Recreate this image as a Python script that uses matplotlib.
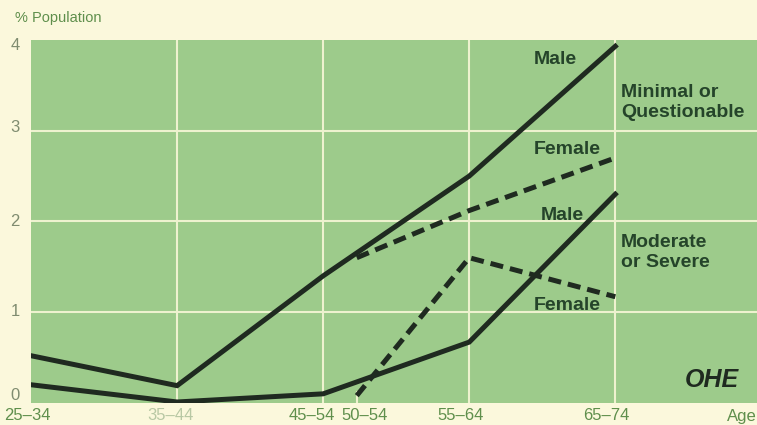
import matplotlib.pyplot as plt

# age groups on x axis (position index), 50-54 sits between 45-54 and 55-64
age_labels = ["25–34", "35–44", "45–54", "50–54", "55–64", "65–74"]
age_pos = [0, 1, 2, 2.23, 3, 4]

# minimal or questionable
male_min_x = [0, 1, 2, 3, 4]
male_min = [0.52, 0.19, 1.40, 2.50, 3.93]
female_min_x = [2.23, 3, 4]
female_min = [1.60, 2.12, 2.70]

# moderate or severe
male_mod_x = [0, 1, 2, 3, 4]
male_mod = [0.20, 0.01, 0.10, 0.67, 2.30]
female_mod_x = [2.23, 3, 4]
female_mod = [0.08, 1.60, 1.17]

cream = "#fbf8dc"
green = "#9dcb8b"
grid_c = "#eef2cf"
line_c = "#1f2a20"
txt_c = "#25442a"

fig = plt.figure(figsize=(7.57, 4.25), dpi=100, facecolor=cream)
ax = fig.add_axes([0.041, 0.052, 0.959, 0.854])
ax.set_facecolor(green)
for s in ax.spines.values():
    s.set_visible(False)

ax.set_xlim(0, 4.97)
ax.set_ylim(0, 4)

# grid
for x in [1, 2, 3, 4]:
    ax.axvline(x, color=grid_c, lw=1.5, zorder=1)
ax.axvline(2.23, ymax=0.03, color=grid_c, lw=1.5, zorder=1)
for y in [1, 2, 3]:
    ax.axhline(y, color=grid_c, lw=1.5, zorder=1)

lw = 3.6
ax.plot(male_min_x, male_min, color=line_c, lw=lw, solid_joinstyle="miter", zorder=3)
ax.plot(male_mod_x, male_mod, color=line_c, lw=lw, solid_joinstyle="miter", zorder=3)
ax.plot(female_min_x, female_min, color=line_c, lw=lw, dashes=(2.6, 1.4), zorder=3)
ax.plot(female_mod_x, female_mod, color=line_c, lw=lw, dashes=(2.6, 1.4), zorder=3)

ax.set_xticks([])
ax.set_yticks([])

font = ["Liberation Sans", "DejaVu Sans"]

# y tick labels (pixel rows)
ylab_py = [395, 311, 221, 128, 45]
for v, py in enumerate(ylab_py):
    fig.text(15 / 757, 1 - py / 425, str(v), ha="center", va="center",
             fontsize=12, color="#7f8c70", family=font)
# x tick labels
xlab_px = [27, 171, 312, 365, 461, 606]
for lab, px in zip(age_labels, xlab_px):
    col = "#b8c8a4" if lab == "35–44" else "#5f8f4c"
    fig.text(px / 757, 1 - 416 / 425, lab, ha="center", va="center",
             fontsize=12, color=col, family=font)
fig.text(757 / 757, 1 - 416 / 425, "Age", ha="right", va="center",
         fontsize=12, color="#5f8f4c", family=font)
fig.text(15 / 757, 1 - 18 / 425, "% Population", ha="left", va="center",
         fontsize=10.5, color="#5f8f4c", family=font)

# series labels
kw = dict(fontsize=14, fontweight="bold", color=txt_c, family=font, zorder=4)
ax.text(3.59, 3.78, "Male", ha="center", va="center", **kw)
ax.text(3.67, 2.79, "Female", ha="center", va="center", **kw)
ax.text(3.64, 2.07, "Male", ha="center", va="center", **kw)
ax.text(3.67, 1.07, "Female", ha="center", va="center", **kw)
ax.text(4.04, 3.31, "Minimal or\nQuestionable", ha="left", va="center",
        linespacing=1.2, **kw)
ax.text(4.04, 1.66, "Moderate\nor Severe", ha="left", va="center",
        linespacing=1.25, **kw)

# logo
ax.text(4.66, 0.25, "OHE", ha="center", va="center", fontsize=18,
        fontweight="bold", fontstyle="italic", color=line_c, family=font)

fig.savefig("out.png", dpi=100, facecolor=cream)
